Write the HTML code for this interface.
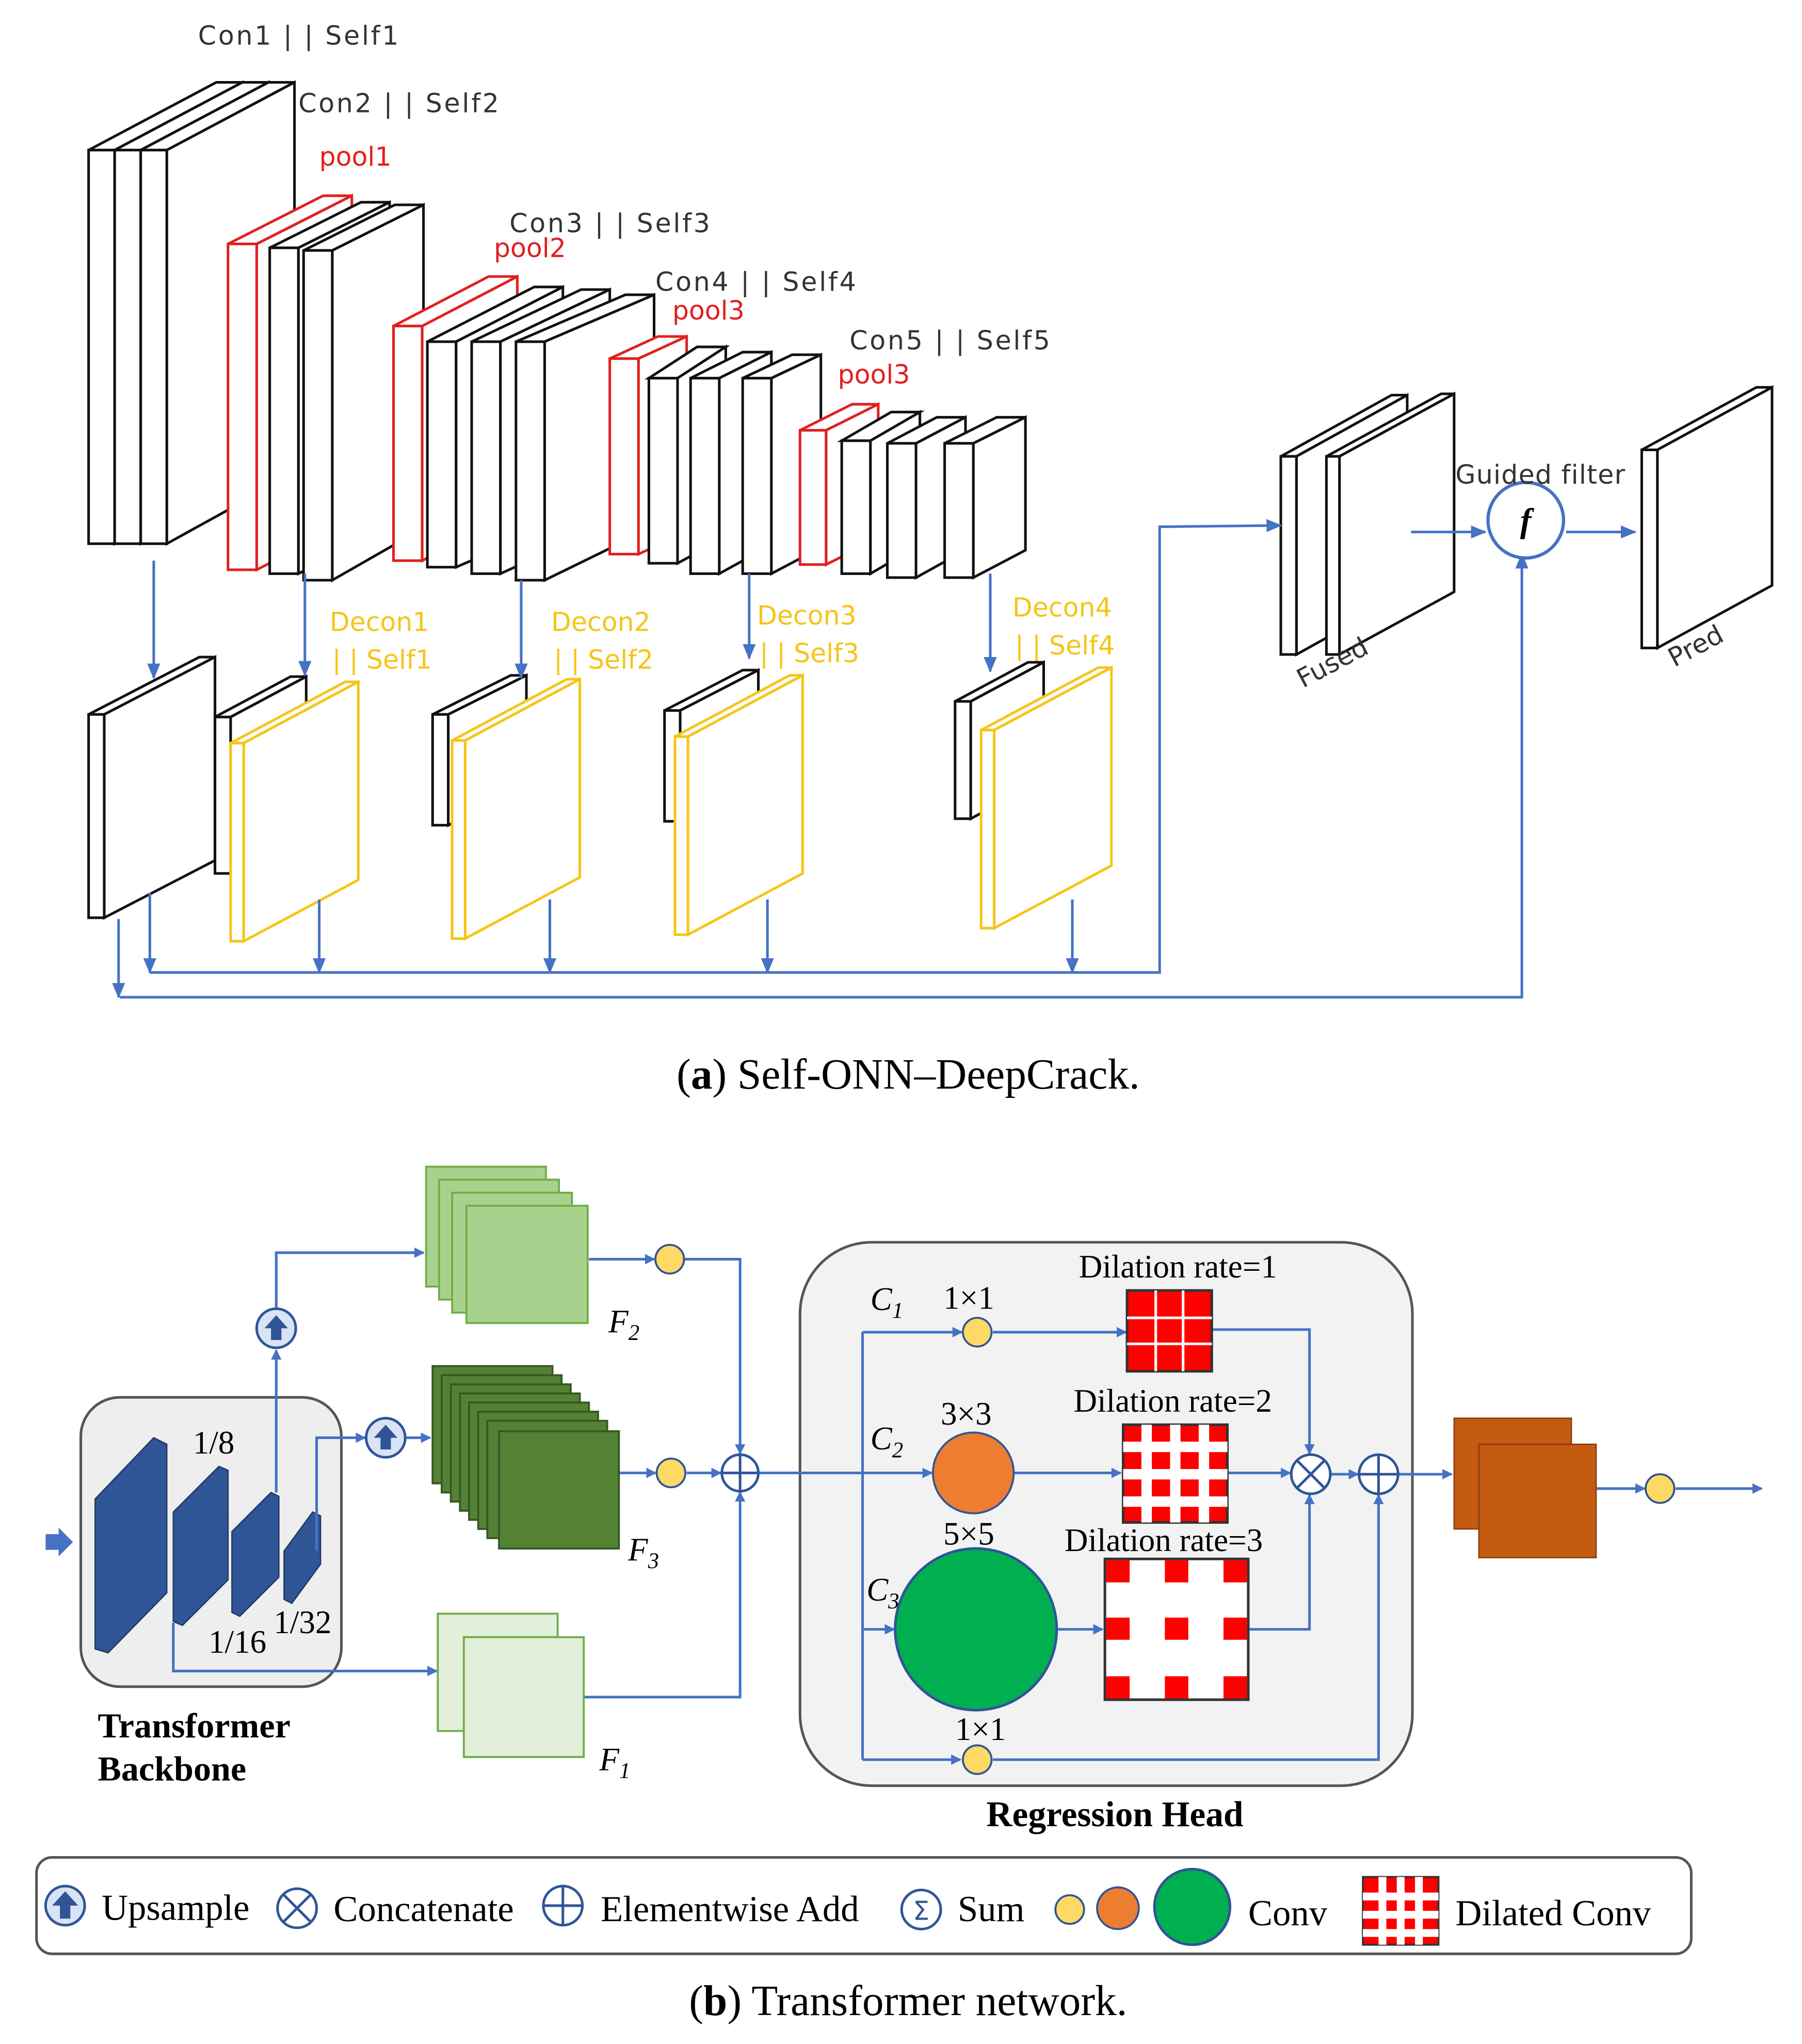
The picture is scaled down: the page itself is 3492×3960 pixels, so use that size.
<!DOCTYPE html>
<html><head><meta charset="utf-8"><style>html,body{margin:0;padding:0;background:#fff}svg{display:block}</style></head><body>
<svg width="3492" height="3960" viewBox="0 0 1383 1568" xmlns="http://www.w3.org/2000/svg">
<defs>
<marker id="ar" markerWidth="8" markerHeight="8" refX="7" refY="4" orient="auto" markerUnits="userSpaceOnUse"><path d="M0,0 L8,4 L0,8 z" fill="#4472c4"/></marker>
<marker id="ar2" markerWidth="12" markerHeight="10" refX="11" refY="5" orient="auto" markerUnits="userSpaceOnUse"><path d="M0,0 L12,5 L0,10 z" fill="#4472c4"/></marker>
</defs>
<g stroke-width="2" stroke-linejoin="miter">
<g fill="#fff" stroke="#111">
<polygon points="68,115 166,63 186,63 88,115"/><polygon points="88,115 186,63 186,363 88,417"/><rect x="68" y="115" width="20" height="302"/>
<polygon points="88,115 186,63 206,63 108,115"/><polygon points="108,115 206,63 206,363 108,417"/><rect x="88" y="115" width="20" height="302"/>
<polygon points="108,115 206,63 226,63 128,115"/><polygon points="128,115 226,63 226,363 128,417"/><rect x="108" y="115" width="20" height="302"/>
</g>
<g fill="#fff" stroke="#e02020"><polygon points="175,187 248,150 270,150 197,187"/><polygon points="197,187 270,150 270,400 197,437"/><rect x="175" y="187" width="22" height="250"/></g>
<g fill="#fff" stroke="#111">
<polygon points="207,190 277,155 299,155 229,190"/><polygon points="229,190 299,155 299,405 229,440"/><rect x="207" y="190" width="22" height="250"/>
<polygon points="233,192 303,157 325,157 255,192"/><polygon points="255,192 325,157 325,405 255,445"/><rect x="233" y="192" width="22" height="253"/>
</g>
<g fill="#fff" stroke="#e02020"><polygon points="302,250 375,212 397,212 324,250"/><polygon points="324,250 397,212 397,392 324,430"/><rect x="302" y="250" width="22" height="180"/></g>
<g fill="#fff" stroke="#111">
<polygon points="328,262 410,220 432,220 350,262"/><polygon points="350,262 432,220 432,400 350,435"/><rect x="328" y="262" width="22" height="173"/>
<polygon points="362,262 446,222 468,222 384,262"/><polygon points="384,262 468,222 468,402 384,440"/><rect x="362" y="262" width="22" height="178"/>
<polygon points="396,262 480,226 502,226 418,262"/><polygon points="418,262 502,226 502,404 418,445"/><rect x="396" y="262" width="22" height="183"/>
</g>
<g fill="#fff" stroke="#e02020"><polygon points="468,275 505,258 527,258 490,275"/><polygon points="490,275 527,258 527,408 490,425"/><rect x="468" y="275" width="22" height="150"/></g>
<g fill="#fff" stroke="#111">
<polygon points="498,290 535,266 557,266 520,290"/><polygon points="520,290 557,266 557,412 520,432"/><rect x="498" y="290" width="22" height="142"/>
<polygon points="530,290 570,270 592,270 552,290"/><polygon points="552,290 592,270 592,418 552,440"/><rect x="530" y="290" width="22" height="150"/>
<polygon points="570,290 608,272 630,272 592,290"/><polygon points="592,290 630,272 630,420 592,440"/><rect x="570" y="290" width="22" height="150"/>
</g>
<g fill="#fff" stroke="#e02020"><polygon points="614,330 654,310 674,310 634,330"/><polygon points="634,330 674,310 674,413 634,433"/><rect x="614" y="330" width="20" height="103"/></g>
<g fill="#fff" stroke="#111">
<polygon points="646,338 684,316 706,316 668,338"/><polygon points="668,338 706,316 706,418 668,440"/><rect x="646" y="338" width="22" height="102"/>
<polygon points="681,340 719,320 741,320 703,340"/><polygon points="703,340 741,320 741,422 703,443"/><rect x="681" y="340" width="22" height="103"/>
<polygon points="725,340 765,320 787,320 747,340"/><polygon points="747,340 787,320 787,422 747,443"/><rect x="725" y="340" width="22" height="103"/>
</g>
<g fill="#fff" stroke="#111">
<polygon points="68,548 153,504 165,504 80,548"/><polygon points="80,548 165,504 165,660 80,704"/><rect x="68" y="548" width="12" height="156"/>
<polygon points="165,550 223,519 235,519 177,550"/><polygon points="177,550 235,519 235,640 177,670"/><rect x="165" y="550" width="12" height="120"/>
<polygon points="332,548 392,518 404,518 344,548"/><polygon points="344,548 404,518 404,605 344,633"/><rect x="332" y="548" width="12" height="85"/>
<polygon points="510,545 570,514 582,514 522,545"/><polygon points="522,545 582,514 582,600 522,630"/><rect x="510" y="545" width="12" height="85"/>
<polygon points="733,538 789,508 801,508 745,538"/><polygon points="745,538 801,508 801,598 745,628"/><rect x="733" y="538" width="12" height="90"/>
</g>
<g fill="#fff" stroke="#f5c518">
<polygon points="177,570 265,523 275,523 187,570"/><polygon points="187,570 275,523 275,675 187,722"/><rect x="177" y="570" width="10" height="152"/>
<polygon points="347,568 435,521 445,521 357,568"/><polygon points="357,568 445,521 445,673 357,720"/><rect x="347" y="568" width="10" height="152"/>
<polygon points="518,565 606,518 616,518 528,565"/><polygon points="528,565 616,518 616,670 528,717"/><rect x="518" y="565" width="10" height="152"/>
<polygon points="753,560 843,512 853,512 763,560"/><polygon points="763,560 853,512 853,664 763,712"/><rect x="753" y="560" width="10" height="152"/>
</g>
<g fill="#fff" stroke="#111">
<polygon points="983,350 1068,303 1080,303 995,350"/><polygon points="995,350 1080,303 1080,455 995,502"/><rect x="983" y="350" width="12" height="152"/>
<polygon points="1018,350 1106,302 1116,302 1028,350"/><polygon points="1028,350 1116,302 1116,454 1028,502"/><rect x="1018" y="350" width="10" height="152"/>
<polygon points="1260,345 1348,297 1360,297 1272,345"/><polygon points="1272,345 1360,297 1360,449 1272,497"/><rect x="1260" y="345" width="12" height="152"/>
</g>
</g>
<g stroke="#4472c4" stroke-width="2" fill="none">
<line x1="118" y1="430" x2="118" y2="520" marker-end="url(#ar2)"/>
<line x1="234" y1="440" x2="234" y2="518" marker-end="url(#ar2)"/>
<line x1="400" y1="445" x2="400" y2="520" marker-end="url(#ar2)"/>
<line x1="575" y1="440" x2="575" y2="505" marker-end="url(#ar2)"/>
<line x1="760" y1="440" x2="760" y2="515" marker-end="url(#ar2)"/>
<polyline points="115,746 890,746 890,404 983,403" marker-end="url(#ar2)"/>
<polyline points="92,765 1168,765 1168,425" marker-end="url(#ar2)"/>
<line x1="91" y1="705" x2="91" y2="765" marker-end="url(#ar2)"/>
<line x1="115" y1="685" x2="115" y2="746" marker-end="url(#ar2)"/>
<line x1="245" y1="690" x2="245" y2="746" marker-end="url(#ar2)"/>
<line x1="422" y1="690" x2="422" y2="746" marker-end="url(#ar2)"/>
<line x1="589" y1="690" x2="589" y2="746" marker-end="url(#ar2)"/>
<line x1="823" y1="690" x2="823" y2="746" marker-end="url(#ar2)"/>
<line x1="1083" y1="408" x2="1140" y2="408" marker-end="url(#ar2)"/>
<line x1="1202" y1="408" x2="1255" y2="408" marker-end="url(#ar2)"/>
<circle cx="1171" cy="399" r="29" stroke-width="2.5" fill="#fff"/>
</g>
<text x="1171" y="408" font-family="Liberation Serif,serif" font-style="italic" font-weight="bold" font-size="26" text-anchor="middle">f</text>
<g font-family="DejaVu Sans,sans-serif" font-size="20">
<g fill="#333" letter-spacing="1.5">
<text x="152" y="34">Con1 |  | Self1</text>
<text x="229" y="86">Con2 |  | Self2</text>
<text x="391" y="178">Con3 |  | Self3</text>
<text x="503" y="223">Con4 |  | Self4</text>
<text x="652" y="268">Con5 |  | Self5</text>
<text x="1117" y="371" letter-spacing="0.5">Guided filter</text>
</g>
<text x="245" y="127" fill="#e02020">pool1</text>
<text x="379" y="197" fill="#e02020">pool2</text>
<text x="516" y="245" fill="#e02020">pool3</text>
<text x="643" y="294" fill="#e02020">pool3</text>
<text x="253" y="484" fill="#f5c518">Decon1</text><text x="255" y="513" fill="#f5c518">| | Self1</text>
<text x="423" y="484" fill="#f5c518">Decon2</text><text x="425" y="513" fill="#f5c518">| | Self2</text>
<text x="581" y="479" fill="#f5c518">Decon3</text><text x="583" y="508" fill="#f5c518">| | Self3</text>
<text x="777" y="473" fill="#f5c518">Decon4</text><text x="779" y="502" fill="#f5c518">| | Self4</text>
<text x="1000" y="528" fill="#333" transform="rotate(-28 1000 528)">Fused</text>
<text x="1285" y="512" fill="#333" transform="rotate(-28 1285 512)">Pred</text>
</g>
<text x="697" y="835" font-family="Liberation Serif,serif" font-size="33" text-anchor="middle">(<tspan font-weight="bold">a</tspan>) Self-ONN–DeepCrack.</text>

<rect x="62" y="1072" width="200" height="222" rx="30" fill="#eee" stroke="#555" stroke-width="2"/>
<g fill="#2f5597" stroke="#1f3864" stroke-width="1">
<polygon points="73,1150 118,1103 128,1108 128,1222 83,1268 73,1265"/>
<polygon points="133,1160 168,1125 175,1128 175,1212 140,1247 133,1244"/>
<polygon points="178,1175 208,1145 214,1148 214,1210 184,1240 178,1237"/>
<polygon points="218,1190 240,1160 246,1163 246,1200 224,1230 218,1227"/>
</g>
<polygon points="35,1177 45,1177 45,1172 56,1183 45,1194 45,1189 35,1189" fill="#4472c4"/>
<rect x="614" y="953" width="470" height="417" rx="55" fill="#f2f2f2" stroke="#555" stroke-width="2"/>
<g stroke="#4472c4" stroke-width="2" fill="none">
<polyline points="212,1145 212,1036" marker-end="url(#ar)"/>
<polyline points="212,1003 212,961 325,961" marker-end="url(#ar)"/>
<polyline points="243,1190 243,1103 280,1103" marker-end="url(#ar)"/>
<line x1="312" y1="1103" x2="330" y2="1103" marker-end="url(#ar)"/>
<polyline points="133,1245 133,1282 335,1282" marker-end="url(#ar)"/>
<line x1="452" y1="966" x2="502" y2="966" marker-end="url(#ar)"/>
<polyline points="525,966 568,966 568,1115" marker-end="url(#ar)"/>
<line x1="475" y1="1130" x2="503" y2="1130" marker-end="url(#ar)"/>
<line x1="527" y1="1130" x2="553" y2="1130" marker-end="url(#ar)"/>
<polyline points="448,1302 568,1302 568,1145" marker-end="url(#ar)"/>
<line x1="583" y1="1130" x2="715" y2="1130" marker-end="url(#ar)"/>
<line x1="662" y1="1022" x2="662" y2="1350"/>
<line x1="662" y1="1022" x2="738" y2="1022" marker-end="url(#ar)"/>
<line x1="662" y1="1350" x2="737" y2="1350" marker-end="url(#ar)"/>
<line x1="662" y1="1250" x2="686" y2="1250" marker-end="url(#ar)"/>
<line x1="762" y1="1022" x2="864" y2="1022" marker-end="url(#ar)"/>
<polyline points="930,1020 1005,1020 1005,1115" marker-end="url(#ar)"/>
<line x1="778" y1="1130" x2="860" y2="1130" marker-end="url(#ar)"/>
<line x1="942" y1="1130" x2="990" y2="1130" marker-end="url(#ar)"/>
<line x1="812" y1="1250" x2="846" y2="1250" marker-end="url(#ar)"/>
<polyline points="958,1250 1005,1250 1005,1147" marker-end="url(#ar)"/>
<line x1="1021" y1="1131" x2="1042" y2="1131" marker-end="url(#ar)"/>
<polyline points="762,1350 1058,1350 1058,1147" marker-end="url(#ar)"/>
<line x1="1073" y1="1131" x2="1114" y2="1131" marker-end="url(#ar)"/>
<line x1="1225" y1="1142" x2="1262" y2="1142" marker-end="url(#ar)"/>
<line x1="1286" y1="1142" x2="1352" y2="1142" marker-end="url(#ar)"/>
</g>
<g stroke="#2f5597" stroke-width="2" fill="#dae3f3">
<circle cx="212" cy="1019" r="15"/><circle cx="296" cy="1103" r="15"/>
</g>
<polygon points="212,1009 221,1019 216,1019 216,1028 208,1028 208,1019 203,1019" fill="#2f5597"/>
<polygon points="296,1093 305,1103 300,1103 300,1112 292,1112 292,1103 287,1103" fill="#2f5597"/>
<g fill="#a9d18e" stroke="#70ad47" stroke-width="1.5">
<rect x="327" y="895" width="92" height="92"/><rect x="337" y="905" width="92" height="92"/><rect x="347" y="915" width="92" height="92"/><rect x="358" y="925" width="93" height="90"/>
</g>
<g fill="#548235" stroke="#385723" stroke-width="1.5">
<rect x="332" y="1048" width="92" height="90"/><rect x="339" y="1055" width="92" height="90"/><rect x="346" y="1062" width="92" height="90"/><rect x="353" y="1069" width="92" height="90"/><rect x="360" y="1076" width="92" height="90"/><rect x="367" y="1083" width="92" height="90"/><rect x="374" y="1090" width="92" height="90"/><rect x="383" y="1098" width="92" height="90"/>
</g>
<g fill="#e2efda" stroke="#70ad47" stroke-width="1.5">
<rect x="336" y="1238" width="92" height="90"/><rect x="356" y="1256" width="92" height="92"/>
</g>
<g fill="#ffd966" stroke="#2f5597" stroke-width="1.5">
<circle cx="514" cy="966" r="11"/><circle cx="515" cy="1130" r="11"/><circle cx="750" cy="1022" r="11"/><circle cx="750" cy="1350" r="11"/><circle cx="1274" cy="1142" r="11"/>
</g>
<g stroke="#2f5597" stroke-width="2" fill="#fff">
<circle cx="568" cy="1130" r="14"/><circle cx="1006" cy="1131" r="15"/><circle cx="1058" cy="1131" r="15"/>
</g>
<g stroke="#2f5597" stroke-width="2">
<line x1="554" y1="1130" x2="582" y2="1130"/><line x1="568" y1="1116" x2="568" y2="1144"/>
<line x1="1043" y1="1131" x2="1073" y2="1131"/><line x1="1058" y1="1116" x2="1058" y2="1146"/>
<line x1="996" y1="1121" x2="1016" y2="1141"/><line x1="1016" y1="1121" x2="996" y2="1141"/>
</g>
<circle cx="747" cy="1130" r="31" fill="#ed7d31" stroke="#2f5597" stroke-width="1.5"/>
<circle cx="749" cy="1250" r="62" fill="#00b050" stroke="#2f5597" stroke-width="2"/>
<rect x="865" y="990" width="65" height="62" fill="#ff0000" stroke="#333" stroke-width="2"/>
<g stroke="#fff" stroke-width="2"><line x1="887" y1="990" x2="887" y2="1052"/><line x1="908" y1="990" x2="908" y2="1052"/><line x1="865" y1="1011" x2="930" y2="1011"/><line x1="865" y1="1031" x2="930" y2="1031"/></g>
<rect x="862" y="1093" width="80" height="75" fill="#ff0000" stroke="#333" stroke-width="2"/>
<g fill="#fff">
<rect x="876" y="1093" width="8" height="75"/><rect x="898" y="1093" width="8" height="75"/><rect x="920" y="1093" width="8" height="75"/>
<rect x="862" y="1106" width="80" height="8"/><rect x="862" y="1127" width="80" height="8"/><rect x="862" y="1148" width="80" height="8"/>
</g>
<rect x="848" y="1196" width="110" height="108" fill="#fff" stroke="#333" stroke-width="2"/>
<g fill="#ff0000">
<rect x="849" y="1197" width="18" height="17"/><rect x="894" y="1197" width="18" height="17"/><rect x="939" y="1197" width="18" height="17"/>
<rect x="849" y="1241" width="18" height="17"/><rect x="894" y="1241" width="18" height="17"/><rect x="939" y="1241" width="18" height="17"/>
<rect x="849" y="1286" width="18" height="17"/><rect x="894" y="1286" width="18" height="17"/><rect x="939" y="1286" width="18" height="17"/>
</g>
<g fill="#c55a11" stroke="#843c0c" stroke-width="1"><rect x="1116" y="1088" width="90" height="85"/><rect x="1135" y="1108" width="90" height="87"/></g>
<g font-family="Liberation Serif,serif" font-size="25" fill="#000">
<text x="148" y="1115">1/8</text><text x="160" y="1268">1/16</text><text x="210" y="1253">1/32</text>
<text x="467" y="1022" font-style="italic">F<tspan font-size="17" dy="6">2</tspan></text>
<text x="482" y="1197" font-style="italic">F<tspan font-size="17" dy="6">3</tspan></text>
<text x="460" y="1358" font-style="italic">F<tspan font-size="17" dy="6">1</tspan></text>
<text x="668" y="1005" font-style="italic">C<tspan font-size="17" dy="6">1</tspan></text>
<text x="668" y="1112" font-style="italic">C<tspan font-size="17" dy="6">2</tspan></text>
<text x="665" y="1228" font-style="italic">C<tspan font-size="17" dy="6">3</tspan></text>
<text x="724" y="1004">1×1</text><text x="722" y="1093">3×3</text><text x="724" y="1185">5×5</text><text x="733" y="1335">1×1</text>
<text x="828" y="980">Dilation rate=1</text><text x="824" y="1083">Dilation rate=2</text><text x="817" y="1190">Dilation rate=3</text>
<text x="75" y="1333" font-weight="bold" font-size="27">Transformer</text><text x="75" y="1366" font-weight="bold" font-size="27">Backbone</text>
<text x="757" y="1401" font-weight="bold" font-size="27.5">Regression Head</text>
</g>
<rect x="28" y="1425" width="1270" height="74" rx="12" fill="#fff" stroke="#555" stroke-width="2"/>
<g stroke="#2f5597" stroke-width="2" fill="#fff">
<circle cx="50" cy="1462" r="15" fill="#dae3f3"/><circle cx="228" cy="1464" r="15"/><circle cx="432" cy="1462" r="15"/><circle cx="707" cy="1465" r="15"/>
<line x1="218" y1="1454" x2="238" y2="1474"/><line x1="238" y1="1454" x2="218" y2="1474"/>
<line x1="417" y1="1462" x2="447" y2="1462"/><line x1="432" y1="1447" x2="432" y2="1477"/>
</g>
<polygon points="50,1451 60,1462 54,1462 54,1472 46,1472 46,1462 40,1462" fill="#2f5597"/>
<text x="707" y="1473" font-family="DejaVu Sans,sans-serif" font-size="20" text-anchor="middle" fill="#2f5597">Σ</text>
<circle cx="821" cy="1465" r="11" fill="#ffd966" stroke="#2f5597" stroke-width="1.5"/>
<circle cx="858" cy="1464" r="16" fill="#ed7d31" stroke="#2f5597" stroke-width="1.5"/>
<circle cx="915" cy="1463" r="29" fill="#00b050" stroke="#2f5597" stroke-width="2"/>
<rect x="1046" y="1440" width="58" height="52" fill="#ff0000" stroke="#333" stroke-width="1.5"/>
<g fill="#fff"><rect x="1058" y="1440" width="6" height="52"/><rect x="1072" y="1440" width="6" height="52"/><rect x="1086" y="1440" width="6" height="52"/><rect x="1046" y="1452" width="58" height="6"/><rect x="1046" y="1466" width="58" height="6"/><rect x="1046" y="1480" width="58" height="6"/></g>
<g font-family="Liberation Serif,serif" font-size="28" fill="#000">
<text x="78" y="1473">Upsample</text><text x="256" y="1474">Concatenate</text><text x="461" y="1474">Elementwise Add</text><text x="735" y="1474">Sum</text><text x="958" y="1477">Conv</text><text x="1117" y="1477">Dilated Conv</text>
</g>
<text x="697" y="1546" font-family="Liberation Serif,serif" font-size="33" text-anchor="middle">(<tspan font-weight="bold">b</tspan>) Transformer network.</text>
</svg>
</body></html>
